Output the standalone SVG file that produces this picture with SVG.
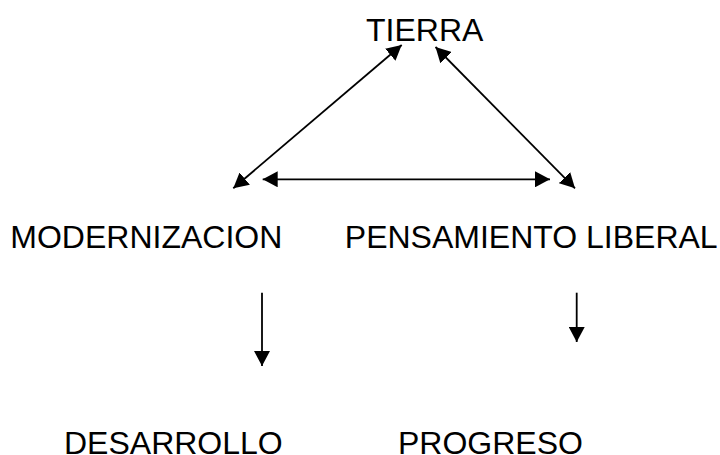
<svg xmlns="http://www.w3.org/2000/svg" width="720" height="455" viewBox="0 0 720 455">
<style>
text{font-family:"Liberation Sans",Arial,sans-serif;font-size:32px;fill:#000}
.c{stroke:#000;stroke-width:1.8;fill:none;marker-end:url(#ah)}
.b{marker-start:url(#ah)}
</style>
<defs>
<marker id="ah" markerWidth="16" markerHeight="16" refX="15" refY="8" orient="auto-start-reverse" markerUnits="userSpaceOnUse">
<path d="M0,0 L15,8 L0,16 z" fill="#000"/>
</marker>
</defs>
<rect width="720" height="455" fill="#fff"/>
<g id="connectors">
<line class="c b" x1="233.3" y1="188.3" x2="401.7" y2="45"/>
<line class="c b" x1="435.5" y1="47" x2="575" y2="188.3"/>
<line class="c b" x1="262.7" y1="179.3" x2="550" y2="179.3"/>
<line class="c" x1="262" y1="292.7" x2="262" y2="366"/>
<line class="c" x1="576.7" y1="292.7" x2="576.7" y2="342"/>
</g>
<g id="tierra"><text x="366" y="40.7">TIERRA</text></g>
<g id="modernizacion"><text x="10.3" y="248.3">MODERNIZACION</text></g>
<g id="pensamiento-liberal"><text x="344.8" y="248.3">PENSAMIENTO LIBERAL</text></g>
<g id="desarrollo"><text x="64" y="454">DESARROLLO</text></g>
<g id="progreso"><text x="398" y="454">PROGRESO</text></g>
</svg>
